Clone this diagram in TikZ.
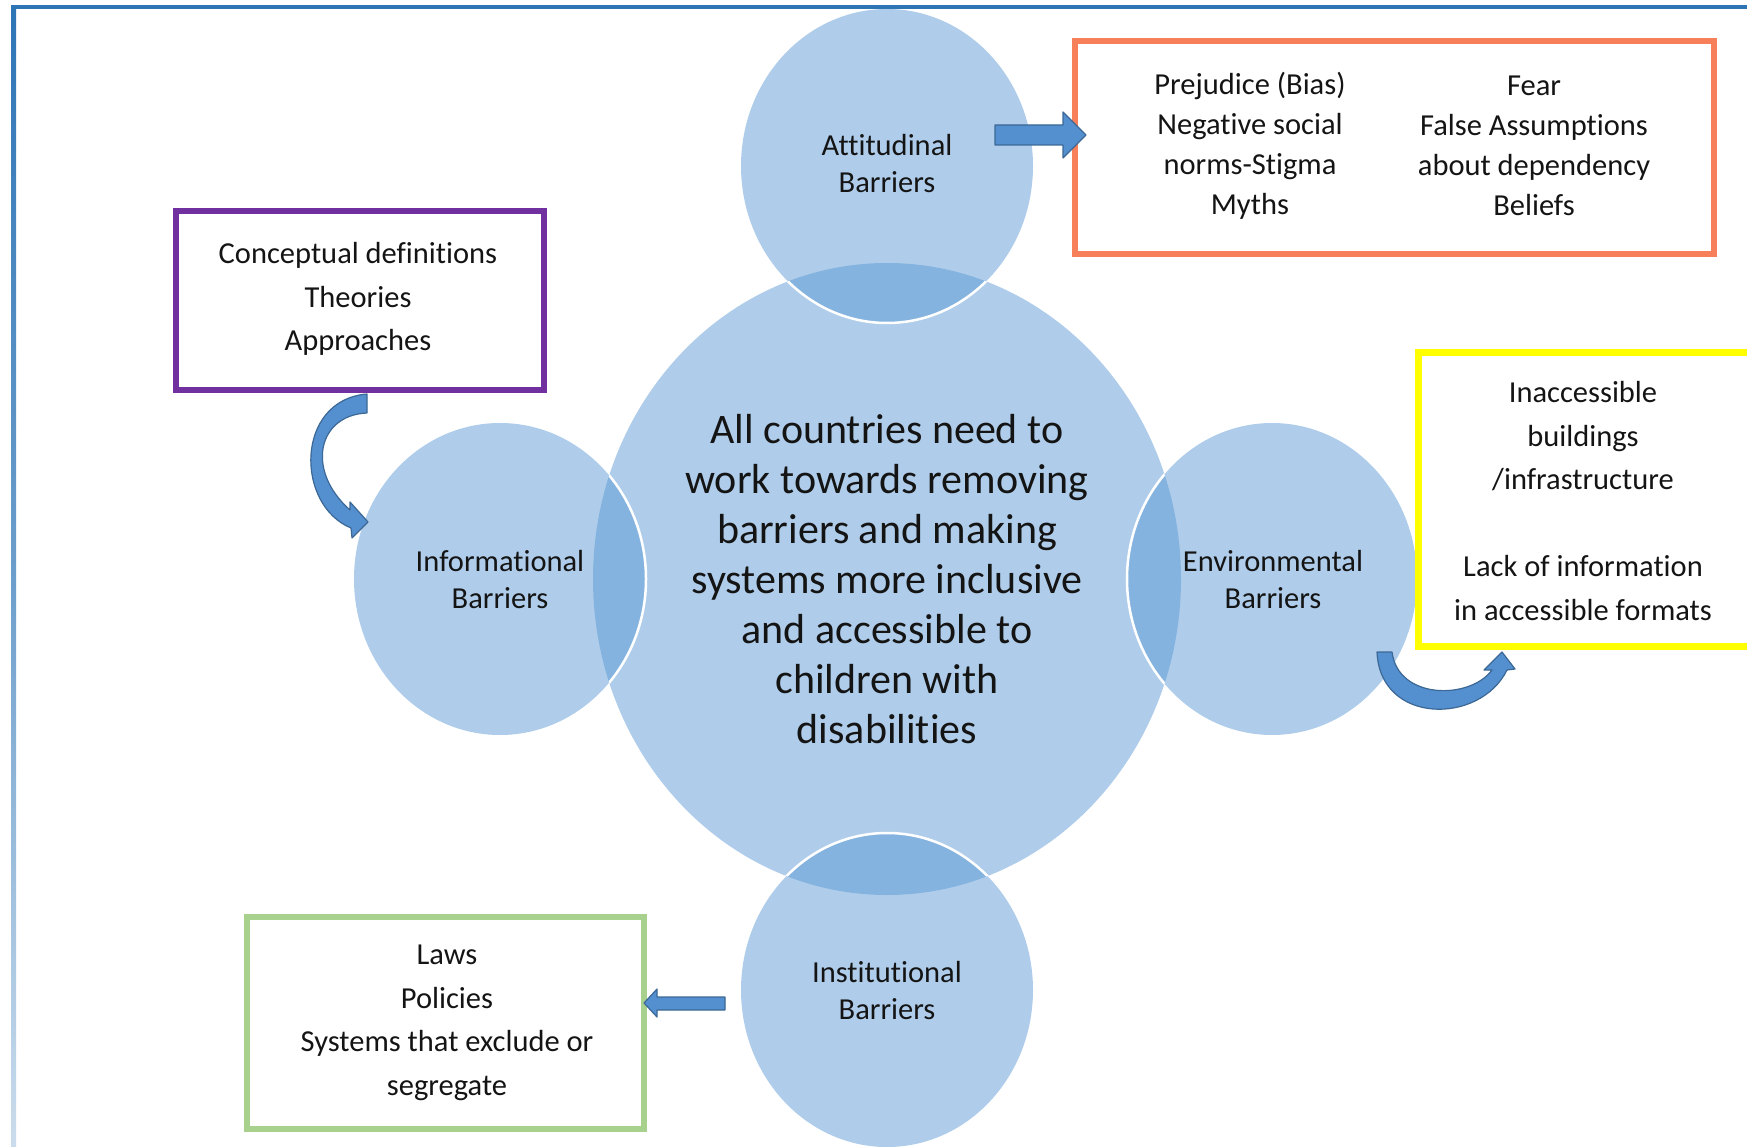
\documentclass[tikz,border=0pt]{standalone}
\usepackage{fontspec}
\setmainfont{Carlito}[Ligatures=NoCommon]
\usetikzlibrary{positioning}

\definecolor{frameblue}{RGB}{46,117,182}
\definecolor{bubblefill}{RGB}{175,205,234}
\definecolor{lensfill}{RGB}{133,179,223}
\definecolor{arrowfill}{RGB}{84,144,207}
\definecolor{arrowline}{RGB}{60,104,150}
\definecolor{boxpurple}{RGB}{112,48,160}
\definecolor{boxorange}{RGB}{247,127,90}
\definecolor{boxyellow}{RGB}{255,255,0}
\definecolor{boxgreen}{RGB}{169,209,142}
\definecolor{inktext}{RGB}{20,20,20}

\begin{document}
\begin{tikzpicture}[
	x=1pt, y=-1pt,
	bubble/.style={fill=bubblefill},
	lens/.style={fill=lensfill},
	rim/.style={draw=white, line width=2.5pt},
	circlelabel/.style={font=\fontsize{30.5}{37}\selectfont, align=center, text=inktext},
	centrelabel/.style={font=\fontsize{42}{50}\selectfont, align=center, text=inktext},
	boxtext/.style={font=\fontsize{30.5}{43.5}\selectfont, align=center, text=inktext},
	listbox/.style={line width=6pt},
	blockarrow/.style={fill=arrowfill, draw=arrowline, line width=1.2pt, line join=round},
	]
	\path[use as bounding box, clip] (0,0) rectangle (1747,1147);

	% frame
	\shade[top color=frameblue, bottom color=frameblue!25, middle color=frameblue!70] (11,7) rectangle (16,1147);
	\draw[frameblue, line width=4.5pt] (11,7) -- (1747,7);

	% the five circles
	\fill[bubble] (887,579) ellipse [x radius=294pt, y radius=316pt];
	\fill[bubble] (887,166) ellipse [x radius=146pt, y radius=157pt];
	\fill[bubble] (500,579) ellipse [x radius=146pt, y radius=156pt];
	\fill[bubble] (1272,579) ellipse [x radius=145pt, y radius=156pt];
	\fill[bubble] (887,990) ellipse [x radius=146pt, y radius=157pt];
	\begin{scope}
		\clip (887,579) ellipse [x radius=294pt, y radius=316pt];
		\fill[lens] (887,166) ellipse [x radius=146pt, y radius=157pt];
		\fill[lens] (500,579) ellipse [x radius=146pt, y radius=156pt];
		\fill[lens] (1272,579) ellipse [x radius=145pt, y radius=156pt];
		\fill[lens] (887,990) ellipse [x radius=146pt, y radius=157pt];
		\draw[rim] (887,166) ellipse [x radius=146pt, y radius=157pt];
		\draw[rim] (500,579) ellipse [x radius=146pt, y radius=156pt];
		\draw[rim] (1272,579) ellipse [x radius=145pt, y radius=156pt];
		\draw[rim] (887,990) ellipse [x radius=146pt, y radius=157pt];
	\end{scope}

	\node[centrelabel] (goal) at (887,579) {All countries need to\\work towards removing\\barriers and making\\systems more inclusive\\and accessible to\\children with\\disabilities};
	\node[circlelabel] (att) at (887,164) {Attitudinal\\Barriers};
	\node[circlelabel] (inf) at (500,580) {Informational\\Barriers};
	\node[circlelabel] (env) at (1273,580) {Environmental\\Barriers};
	\node[circlelabel] (inst) at (887,991) {Institutional\\Barriers};

	% boxes
	\draw[listbox, boxpurple] (176,211) rectangle (544,390);
	\node[boxtext] (infbox) at (358,299) {Conceptual definitions\\Theories\\Approaches};

	\draw[listbox, boxorange] (1075,41) rectangle (1714,254);
	\node[boxtext, font=\fontsize{30.5}{39.8}\selectfont] (attleft) at (1250,146) {Prejudice (Bias)\\Negative social\\norms-Stigma\\Myths};
	\node[boxtext, font=\fontsize{30.5}{39.8}\selectfont] (attright) at (1534,146) {Fear\\False Assumptions\\about dependency\\Beliefs};

	\draw[listbox, line width=7pt, boxyellow] (1418,352) rectangle (1770,646);
	\node[boxtext] (envbox) at (1583,501) {Inaccessible\\buildings\\/infrastructure\\[43.5pt]Lack of information\\in accessible formats};

	\draw[listbox, boxgreen] (247,917) rectangle (644,1129);
	\node[boxtext] (instbox) at (447,1023) {Laws\\Policies\\Systems that exclude or\\segregate};

	% block arrows
	\draw[blockarrow] (995,125) -- (1063,125) -- (1063,112) -- (1086,135) -- (1063,158) -- (1063,145) -- (995,145) -- cycle;
	\draw[blockarrow] (725,997) -- (657,997) -- (657,989) -- (644,1003) -- (657,1017) -- (657,1010) -- (725,1010) -- cycle;
	\draw[blockarrow] (367,394) -- (367,413) .. controls (318,415) and (305,470) .. (350,510) -- (350,502) -- (368,522) -- (352,538) -- (351,528) .. controls (295,505) and (295,400) .. (367,394) -- cycle;
	\draw[blockarrow] (1377,652) -- (1392,652) .. controls (1398,700) and (1470,700) .. (1492,670) -- (1484,670) -- (1502,652) -- (1515,669) -- (1507,670) .. controls (1480,725) and (1380,725) .. (1377,652) -- cycle;
\end{tikzpicture}
\end{document}
